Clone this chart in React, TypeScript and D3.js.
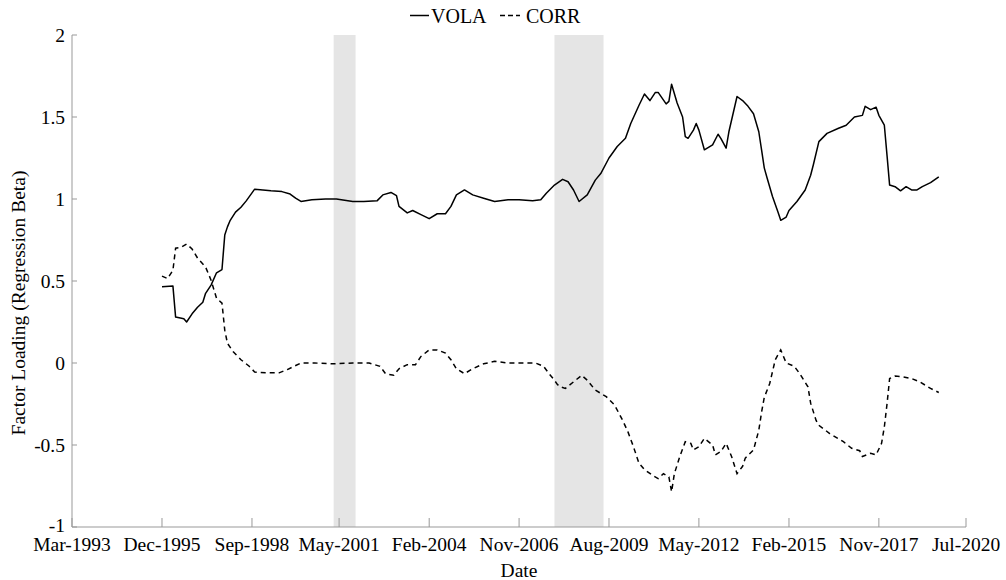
import React from "react";
import * as d3 from "d3";

const volaDates = ["1995-12","1996-04","1996-05","1996-08","1996-09","1996-11","1997-01","1997-03","1997-04","1997-06","1997-08","1997-10","1997-11","1997-12","1998-01","1998-03","1998-05","1998-07","1998-10","1999-01","1999-04","1999-08","1999-11","2000-01","2000-03","2000-07","2000-12","2001-04","2001-10","2002-02","2002-07","2002-09","2002-12","2003-02","2003-03","2003-06","2003-08","2003-11","2004-02","2004-05","2004-08","2004-10","2004-12","2005-03","2005-06","2005-10","2006-02","2006-07","2006-11","2007-04","2007-07","2007-09","2007-12","2008-03","2008-05","2008-07","2008-09","2008-12","2009-03","2009-05","2009-08","2009-11","2010-02","2010-04","2010-07","2010-09","2010-11","2011-01","2011-02","2011-05","2011-06","2011-07","2011-09","2011-11","2011-12","2012-01","2012-03","2012-04","2012-05","2012-07","2012-10","2012-12","2013-01","2013-03","2013-04","2013-07","2013-09","2013-11","2014-01","2014-03","2014-04","2014-05","2014-06","2014-08","2014-10","2014-11","2015-01","2015-02","2015-05","2015-08","2015-10","2015-11","2016-01","2016-04","2016-08","2016-11","2017-02","2017-05","2017-06","2017-08","2017-10","2017-11","2018-01","2018-02","2018-03","2018-05","2018-07","2018-09","2018-11","2019-01","2019-03","2019-06","2019-09"];
const volaValues = [0.465,0.47,0.28,0.27,0.25,0.30,0.34,0.37,0.425,0.475,0.55,0.57,0.78,0.83,0.87,0.92,0.95,0.99,1.06,1.055,1.05,1.045,1.03,1.005,0.985,0.995,1.0,1.0,0.985,0.985,0.99,1.025,1.04,1.02,0.955,0.915,0.93,0.905,0.88,0.91,0.91,0.955,1.025,1.055,1.025,1.005,0.985,0.995,0.995,0.99,0.995,1.035,1.085,1.12,1.105,1.055,0.985,1.025,1.115,1.155,1.25,1.32,1.37,1.46,1.57,1.64,1.60,1.65,1.65,1.58,1.595,1.70,1.585,1.50,1.38,1.37,1.42,1.46,1.42,1.30,1.33,1.395,1.37,1.31,1.41,1.625,1.60,1.565,1.52,1.41,1.30,1.19,1.13,1.015,0.92,0.87,0.89,0.93,0.985,1.055,1.145,1.21,1.35,1.40,1.43,1.45,1.50,1.51,1.565,1.545,1.56,1.51,1.45,1.26,1.085,1.075,1.05,1.075,1.055,1.055,1.075,1.10,1.135];

const corrDates = ["1995-12","1996-02","1996-04","1996-05","1996-07","1996-09","1996-11","1997-01","1997-04","1997-06","1997-08","1997-10","1997-11","1997-12","1998-02","1998-05","1998-08","1998-10","1999-02","1999-07","1999-10","2000-03","2000-08","2001-03","2001-10","2002-04","2002-08","2002-10","2003-01","2003-03","2003-06","2003-09","2003-11","2004-02","2004-05","2004-08","2004-10","2004-12","2005-03","2005-06","2005-10","2006-02","2006-07","2006-11","2007-05","2007-08","2007-10","2007-12","2008-01","2008-02","2008-04","2008-07","2008-10","2008-12","2009-03","2009-07","2009-10","2010-01","2010-03","2010-05","2010-07","2010-09","2010-12","2011-02","2011-04","2011-06","2011-07","2011-08","2011-10","2011-12","2012-02","2012-03","2012-05","2012-07","2012-10","2012-11","2013-01","2013-03","2013-05","2013-07","2013-09","2013-10","2014-01","2014-03","2014-04","2014-05","2014-07","2014-09","2014-11","2015-01","2015-04","2015-06","2015-09","2015-10","2015-12","2016-01","2016-05","2016-10","2017-01","2017-04","2017-05","2017-08","2017-10","2017-12","2018-01","2018-02","2018-03","2018-05","2018-08","2018-11","2019-02","2019-06","2019-09"];
const corrValues = [0.53,0.515,0.565,0.70,0.705,0.725,0.695,0.64,0.585,0.505,0.395,0.365,0.20,0.12,0.07,0.02,-0.02,-0.055,-0.06,-0.06,-0.04,0.0,0.0,-0.005,0.0,0.0,-0.02,-0.065,-0.075,-0.035,-0.01,-0.01,0.04,0.08,0.08,0.06,0.02,-0.035,-0.065,-0.035,-0.005,0.01,0.0,0.0,0.0,-0.02,-0.065,-0.105,-0.13,-0.145,-0.155,-0.115,-0.075,-0.105,-0.165,-0.205,-0.255,-0.35,-0.42,-0.51,-0.61,-0.65,-0.685,-0.705,-0.675,-0.695,-0.785,-0.675,-0.57,-0.48,-0.49,-0.53,-0.51,-0.46,-0.50,-0.56,-0.54,-0.49,-0.57,-0.675,-0.63,-0.58,-0.53,-0.41,-0.30,-0.21,-0.125,0.02,0.08,0.0,-0.02,-0.065,-0.145,-0.245,-0.35,-0.38,-0.43,-0.48,-0.52,-0.535,-0.57,-0.55,-0.56,-0.49,-0.39,-0.245,-0.095,-0.08,-0.085,-0.095,-0.115,-0.155,-0.18];

const recessionStarts = ["2001-03", "2007-12"];
const recessionEnds = ["2001-11", "2009-06"];

const xTickDates = ["1993-03","1995-12","1998-09","2001-05","2004-02","2006-11","2009-08","2012-05","2015-02","2017-11","2020-07"];
const xTickLabels = ["Mar-1993","Dec-1995","Sep-1998","May-2001","Feb-2004","Nov-2006","Aug-2009","May-2012","Feb-2015","Nov-2017","Jul-2020"];
const yTicks = [-1, -0.5, 0, 0.5, 1, 1.5, 2];
const seriesNames = ["VOLA", "CORR"];

const parseMonth = (s: string) => {
  const [y, m] = s.split("-").map(Number);
  return new Date(y, m - 1, 15);
};

export default function App() {
  const W = 1006, H = 580;
  const left = 72, right = 966, top = 35, bottom = 527;
  const font = "'Liberation Serif', Tinos, 'Times New Roman', Times, 'DejaVu Serif', 'Noto Serif', serif";
  const axisColor = "#999999";
  const ts: React.CSSProperties = { fontFamily: font };

  const x = d3.scaleTime()
    .domain([parseMonth(xTickDates[0]), parseMonth(xTickDates[xTickDates.length - 1])])
    .range([left, right]);
  const y = d3.scaleLinear().domain([-1, 2]).range([bottom, top]);

  const line = d3.line<[Date, number]>()
    .x(d => x(d[0]))
    .y(d => y(d[1]));

  const vola: [Date, number][] = volaDates.map((d, i) => [parseMonth(d), volaValues[i]]);
  const corr: [Date, number][] = corrDates.map((d, i) => [parseMonth(d), corrValues[i]]);

  return (
    <svg width={W} height={H} style={{ position: "absolute", left: 0, top: 0, background: "#fff", fontFamily: font }}>
      <rect x={0} y={0} width={W} height={H} fill="#fff" />
      {recessionStarts.map((s, i) => (
        <rect key={i} x={x(parseMonth(s))} y={top}
          width={x(parseMonth(recessionEnds[i])) - x(parseMonth(s))}
          height={bottom - top} fill="#e5e5e5" />
      ))}
      <line x1={left} x2={left} y1={top} y2={bottom} stroke={axisColor} strokeWidth={1} />
      <line x1={left} x2={right} y1={bottom} y2={bottom} stroke={axisColor} strokeWidth={1} />
      {yTicks.map(t => (
        <g key={t}>
          <line x1={left} x2={left + 5} y1={y(t)} y2={y(t)} stroke={axisColor} />
          <text x={left - 7} y={y(t) - (t === -1 ? 2 : 0)} dy="0.35em" textAnchor="end" fontSize={19.5} fill="#000" style={ts}>{String(t)}</text>
        </g>
      ))}
      {xTickDates.map((d, i) => (
        <g key={d}>
          <line x1={x(parseMonth(d))} x2={x(parseMonth(d))} y1={bottom} y2={bottom - 9} stroke={axisColor} />
          <text x={x(parseMonth(d))} y={551} textAnchor="middle" fontSize={19.5} fill="#000" style={ts}>{xTickLabels[i]}</text>
        </g>
      ))}
      <text x={(left + right) / 2} y={577} textAnchor="middle" fontSize={19.5} fill="#000" style={ts}>Date</text>
      <text transform={`translate(25, ${(top + bottom) / 2 + 22}) rotate(-90)`} textAnchor="middle" fontSize={19.5} fill="#000" style={ts}>Factor Loading (Regression Beta)</text>
      <path d={line(vola) || ""} fill="none" stroke="#000" strokeWidth={1.5} strokeLinejoin="round" />
      <path d={line(corr) || ""} fill="none" stroke="#000" strokeWidth={1.5} strokeDasharray="5,4" />
      <line x1={410} x2={429} y1={15.5} y2={15.5} stroke="#000" strokeWidth={1.5} />
      <text x={431} y={23} fontSize={20} fill="#000" style={ts}>{seriesNames[0]}</text>
      <line x1={500} x2={520} y1={15.5} y2={15.5} stroke="#000" strokeWidth={1.5} strokeDasharray="5,3" />
      <text x={526} y={23} fontSize={20} fill="#000" style={ts}>{seriesNames[1]}</text>
    </svg>
  );
}
